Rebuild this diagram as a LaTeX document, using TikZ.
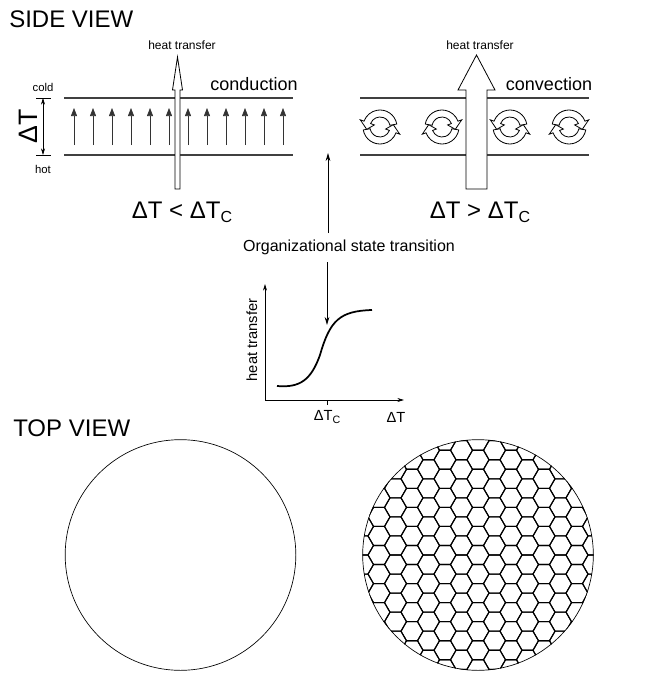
\documentclass[tikz,border=0pt]{standalone}
\usepackage{fontspec}
\setmainfont{Liberation Sans}
\usetikzlibrary{arrows.meta}
\newcommand{\fs}[1]{\fontsize{#1}{#1}\selectfont}
\newcommand{\lowsub}[2]{\raisebox{-0.3ex}{\fs{#1}#2}}
\tikzset{
  lbl/.style={inner sep=0pt, font=\fs{#1}},
  layer/.style={draw=black!75, line width=0.8pt},
  small/.style={-{Triangle[length=6pt,width=4.5pt]}, line width=0.5pt, draw=black!80},
  hollow/.style={draw, fill=white, line width=0.6pt, line join=miter},
  thin/.style={-{Stealth[length=6pt,width=3.5pt]}, line width=0.7pt},
}
\newcommand{\halfcurl}{%
  (170:17) arc[start angle=170,end angle=20,radius=17] -- (20:21) -- (-10:13.5) -- (20:6) -- (20:10) arc[start angle=20,end angle=170,radius=10] -- cycle}
\begin{document}
\begin{tikzpicture}[x=0.75pt,y=-0.75pt]
\useasboundingbox (0,0) rectangle (646,685);
% titles
\node[lbl=18pt, anchor=west] (side) at (9,19) {SIDE VIEW};
\node[lbl=18pt, anchor=west] (top) at (13,428) {TOP VIEW};
% ---- conduction
\draw[layer] (64,98) -- (293,98);
\draw[layer] (64,155) -- (293,155);
\foreach \i in {0,...,11} {
  \draw[small] ({74+19*\i},145) -- ({74+19*\i},108);
}
\node[lbl=8.5pt] (cold) at (43,87) {cold};
\node[lbl=8.5pt] (hot) at (43,169) {hot};
\draw (36,98) -- (51,98);
\draw (36,155) -- (51,155);
\draw[{Stealth[length=5pt,width=3pt]}-{Stealth[length=5pt,width=3pt]}, line width=0.5pt] (43,98) -- (43,155);
\node[lbl=20pt, rotate=90] (dT) at (28,126) {ΔT};
\draw[hollow] (175,189) -- (175,90) -- (172.5,90) -- (177.5,57) -- (182.5,90) -- (180,90) -- (180,189) -- cycle;
\node[lbl=9pt] (ht1) at (182,45) {heat transfer};
\node[lbl=13.5pt] (cond) at (254,84) {conduction};
\node[lbl=18pt] (lt) at (182,212) {ΔT < ΔT\lowsub{12pt}{C}};
% ---- convection
\draw[layer] (360,98) -- (589,98);
\draw[layer] (360,155) -- (589,155);
\foreach \cx/\s in {380/1, 442/-1, 510/1, 569/-1} {
  \begin{scope}[shift={(\cx,127)}, xscale=\s]
    \draw[hollow] \halfcurl;
    \draw[hollow, rotate=180] \halfcurl;
  \end{scope}
}
\draw[hollow] (466,189) -- (466,90) -- (458,90) -- (476.5,55) -- (495,90) -- (487,90) -- (487,189) -- cycle;
\node[lbl=9pt] (ht2) at (480,45) {heat transfer};
\node[lbl=13.5pt] (conv) at (549,84) {convection};
\node[lbl=18pt] (gt) at (480,212) {ΔT > ΔT\lowsub{12pt}{C}};
% ---- middle
\node[lbl=12pt] (org) at (349,247) {Organizational state transition};
\coordinate (upTip) at (328,153);
\coordinate (dnTip) at (327,325);
\draw[thin] (328,233) -- (upTip);
\draw[thin] (327,262) -- (dnTip);
% ---- graph
\coordinate (origin) at (265,400);
\coordinate (ytop) at (265,284);
\coordinate (xend) at (404,400);
\draw[-{Stealth[length=5pt,width=3pt]}, line width=0.6pt] (origin) -- (ytop);
\draw[-{Stealth[length=5pt,width=3pt]}, line width=0.6pt] (origin) -- (xend);
\draw (327,400) -- (327,405);
\draw[line width=1.3pt] (277,386) .. controls (300,388) and (311,380) .. (320,355) .. controls (330,320) and (340,311) .. (372,310);
\node[lbl=11pt, rotate=90] (ylab) at (252,340) {heat transfer};
\node[lbl=11pt] (xc) at (327,417) {ΔT\lowsub{8pt}{C}};
\node[lbl=11pt] (xl) at (396,417) {ΔT};
% ---- top view
\node[draw, circle, minimum size=173pt, inner sep=0pt, line width=0.5pt] (c1) at (180.5,555) {};
\begin{scope}
  \clip (478,555) circle[radius=115.5];
  \foreach \i in {-8,...,8} {
    \foreach \j in {-7,...,7} {
      \pgfmathsetmacro{\hx}{478+16.5*\i}
      \pgfmathsetmacro{\hy}{555+19.05*(\j+0.5*mod(abs(\i),2))}
      \draw[line width=0.8pt] (\hx,\hy) ++(0:11) -- ++(120:11) -- ++(180:11) -- ++(240:11) -- ++(300:11) -- ++(0:11) -- cycle;
    }
  }
\end{scope}
\node[draw, circle, minimum size=173pt, inner sep=0pt, line width=0.5pt] (c2) at (478,555) {};
\end{tikzpicture}
\end{document}
